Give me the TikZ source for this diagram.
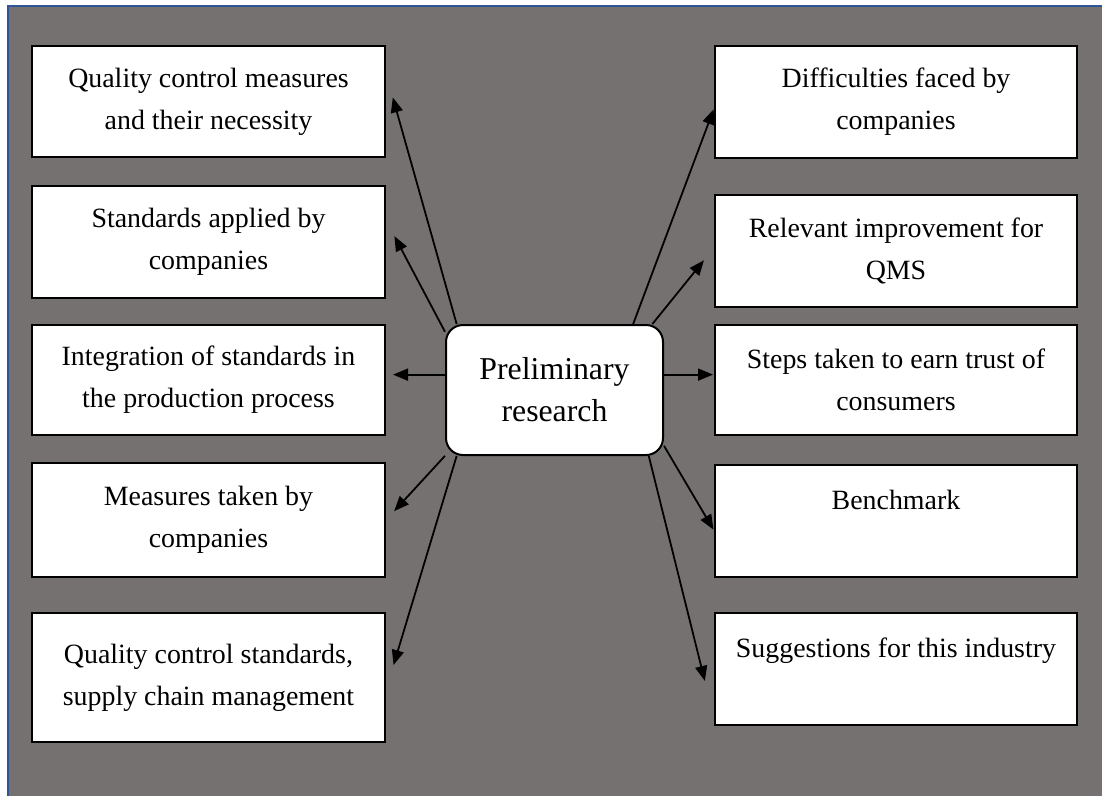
\documentclass[tikz,border=0pt]{standalone}
\usepackage{fontspec}
\setmainfont{Liberation Serif}
\usetikzlibrary{arrows.meta}
\definecolor{fond}{HTML}{767171}
\definecolor{cadre}{HTML}{2F5597}
\begin{document}
\begin{tikzpicture}[x=1pt,y=-1pt,
  boite/.style={draw,fill=white,line width=2pt,inner sep=0pt,align=center,font=\fontsize{27.9}{42}\selectfont},
  fleche/.style={-{Triangle[length=15pt,width=12pt]},line width=1.8pt}]
 	\useasboundingbox (0,0) rectangle (1102,796);
 	\fill[fond] (8,6) rectangle (1102,796);
 	\draw[cadre,line width=2pt] (8,796)--(8,6)--(1102,6);
 	% centre
 	\node[draw,fill=white,line width=2pt,rounded corners=17pt,minimum width=217pt,minimum height=130pt,align=center,font=\fontsize{31.8}{42}\selectfont] (c) at (554.5,390) {Preliminary\\research};
 	% colonne gauche
 	\node[boite,minimum width=353pt,minimum height=111pt] (l1) at (208.5,101.5) {Quality control measures\\and their necessity};
 	\node[boite,minimum width=353pt,minimum height=112pt] (l2) at (208.5,242) {Standards applied by\\companies};
 	\node[boite,minimum width=353pt,minimum height=110pt] (l3) at (208.5,380) {Integration of standards in\\the production process};
 	\node[boite,minimum width=353pt,minimum height=114pt] (l4) at (208.5,520) {Measures taken by\\companies};
 	\node[boite,minimum width=353pt,minimum height=129pt] (l5) at (208.5,677.5) {Quality control standards,\\supply chain management};
 	% colonne droite
 	\node[boite,minimum width=362pt,minimum height=112pt] (r1) at (896,102) {Difficulties faced by\\companies};
 	\node[boite,minimum width=362pt,minimum height=112pt] (r2) at (896,251) {Relevant improvement for\\QMS};
 	\node[boite,minimum width=362pt,minimum height=110pt] (r3) at (896,380) {Steps taken to earn trust of\\consumers};
 	\node[boite,minimum width=362pt,minimum height=112pt] (r4) at (896,521) {Benchmark\\\mbox{}};
 	\node[boite,minimum width=362pt,minimum height=112pt] (r5) at (896,669) {Suggestions for this industry\\\mbox{}};
 	% fleches
 	\draw[fleche,shorten >=25pt] (c.146)--(l1.9);
 	\draw[fleche,shorten >=18pt] (c.152)--(l2.7);
 	\draw[fleche,shorten >=7pt] (c.172)--(c.172 -| l3.east);
 	\draw[fleche,shorten >=12pt] (c.211)--(l4.east);
 	\draw[fleche,shorten >=26pt] (c.214)--(l5.356);
 	\draw[fleche,shorten >=1pt] (c.40)--(r1.182);
 	\draw[fleche,shorten >=16pt] (c.34)--(r2.179);
 	\draw[fleche,shorten >=1pt] (c.8)--(c.8 -| r3.west);
 	\draw[fleche,shorten >=1pt] (c.333)--(r4.183);
 	\draw[fleche,shorten >=38pt] (c.325)--(r5.195);
\end{tikzpicture}
\end{document}
